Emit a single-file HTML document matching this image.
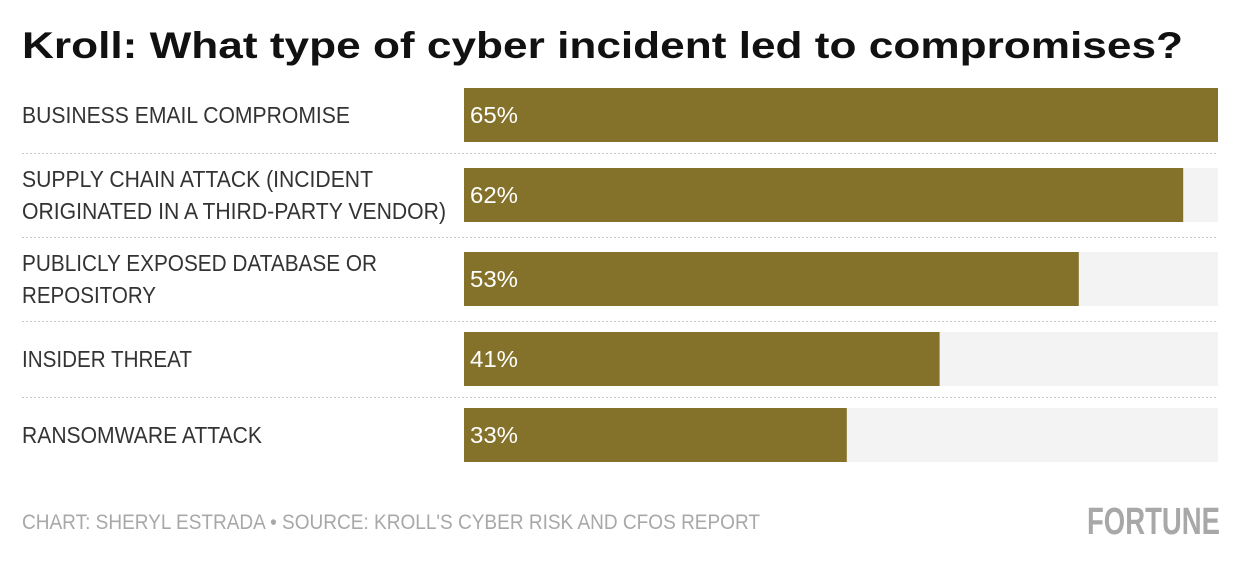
<!DOCTYPE html>
<html><head><meta charset="utf-8"><style>
html,body{margin:0;padding:0;background:#fff;}
svg{display:block;font-family:"Liberation Sans Narrow","Liberation Sans",sans-serif;}
</style></head><body>
<svg id="chart" width="1240" height="564" viewBox="0 0 1240 564">
<text x="22" y="58" font-family="Liberation Sans, sans-serif" font-weight="bold" font-size="37" fill="#111" textLength="1161" lengthAdjust="spacingAndGlyphs">Kroll: What type of cyber incident led to compromises?</text>
<g id="bars"></g>
<g fill="#333" font-size="23">
<text x="22" y="123" textLength="328" lengthAdjust="spacingAndGlyphs">BUSINESS EMAIL COMPROMISE</text>
<text x="22" y="187" textLength="351" lengthAdjust="spacingAndGlyphs">SUPPLY CHAIN ATTACK (INCIDENT</text>
<text x="22" y="219" textLength="424" lengthAdjust="spacingAndGlyphs">ORIGINATED IN A THIRD-PARTY VENDOR)</text>
<text x="22" y="271" textLength="355" lengthAdjust="spacingAndGlyphs">PUBLICLY EXPOSED DATABASE OR</text>
<text x="22" y="303" textLength="134" lengthAdjust="spacingAndGlyphs">REPOSITORY</text>
<text x="22" y="367" textLength="170" lengthAdjust="spacingAndGlyphs">INSIDER THREAT</text>
<text x="22" y="443" textLength="240" lengthAdjust="spacingAndGlyphs">RANSOMWARE ATTACK</text>
</g>
<g stroke="#c8c8c8" stroke-width="1" stroke-dasharray="2,2">
<line x1="22" x2="1218" y1="153.5" y2="153.5"/>
<line x1="22" x2="1218" y1="237.5" y2="237.5"/>
<line x1="22" x2="1218" y1="321.5" y2="321.5"/>
<line x1="22" x2="1218" y1="397.5" y2="397.5"/>
</g>
<text x="22" y="529" fill="#a8a8a8" font-size="21" textLength="738" lengthAdjust="spacingAndGlyphs">CHART: SHERYL ESTRADA • SOURCE: KROLL'S CYBER RISK AND CFOS REPORT</text>
<text x="1087" y="534" fill="#a8a8a8" font-size="38" font-weight="bold" textLength="133" lengthAdjust="spacingAndGlyphs">FORTUNE</text>
</svg>
<script>
const categories = ["Business email compromise","Supply chain attack","Publicly exposed database or repository","Insider threat","Ransomware attack"];
const values = [65,62,53,41,33];
const valueLabels = ["65%","62%","53%","41%","33%"];
const maxValue = 65;
const rowTops = [88,168,252,332,408];
const x0 = 464, x1 = 1218, barH = 54;
function xScale(v){ return x0 + (v/maxValue)*(x1-x0); }
const g = document.getElementById('bars');
const ns = "http://www.w3.org/2000/svg";
values.forEach((v,i)=>{
  const track = document.createElementNS(ns,'rect');
  track.setAttribute('x',x0); track.setAttribute('y',rowTops[i]);
  track.setAttribute('width',x1-x0); track.setAttribute('height',barH);
  track.setAttribute('fill','#f3f3f3');
  
  
  g.appendChild(track);
  const r = document.createElementNS(ns,'rect');
  r.setAttribute('x',x0); r.setAttribute('y',rowTops[i]);
  r.setAttribute('width',xScale(v)-x0); r.setAttribute('height',barH);
  r.setAttribute('fill','#85722a');
  
  
  g.appendChild(r);
  const t = document.createElementNS(ns,'text');
  t.setAttribute('x',x0+6); t.setAttribute('y',rowTops[i]+35);
  t.setAttribute('fill','#fff'); t.setAttribute('font-size','23');
  t.setAttribute('textLength','48'); t.setAttribute('lengthAdjust','spacingAndGlyphs');
  t.textContent = valueLabels[i];
  
  
  g.appendChild(t);
});
</script>
</body></html>
